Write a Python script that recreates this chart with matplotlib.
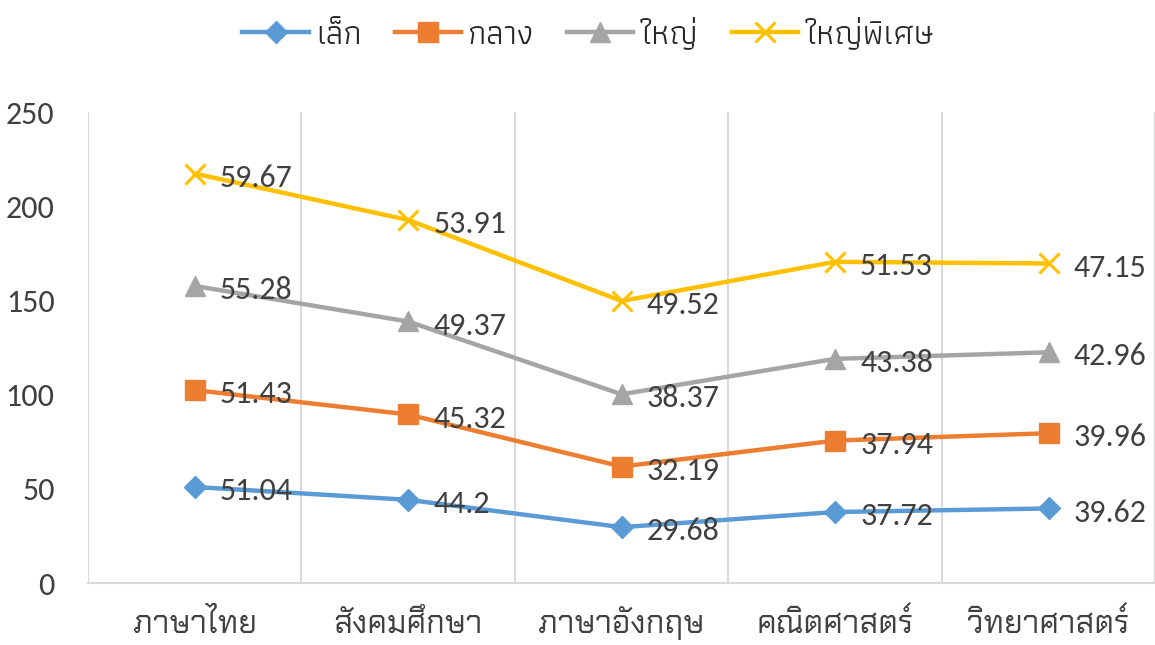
import matplotlib
matplotlib.use("Agg")
import matplotlib.pyplot as plt
import numpy as np

categories = ["ภาษาไทย", "สังคมศึกษา", "ภาษาอังกฤษ", "คณิตศาสตร์", "วิทยาศาสตร์"]
series_names = ["เล็ก", "กลาง", "ใหญ่", "ใหญ่พิเศษ"]
small = [51.04, 44.2, 29.68, 37.72, 39.62]
medium = [51.43, 45.32, 32.19, 37.94, 39.96]
large = [55.28, 49.37, 38.37, 43.38, 42.96]
xlarge = [59.67, 53.91, 49.52, 51.53, 47.15]

num_font = ["Carlito", "Archivo Narrow", "DejaVu Sans"]
plt.rcParams['font.family'] = ["Athiti", "DejaVu Sans"]

colors = ["#5B9BD5", "#ED7D31", "#A5A5A5", "#FFC000"]
markers = ["D", "s", "^", "x"]
msizes = [11, 15, 14, 14]

fig = plt.figure(figsize=(11.55, 6.45), dpi=100)
ax = fig.add_axes([0.0762, 0.096, 0.924, 0.730])

x = np.arange(len(categories))
cum = np.zeros(len(categories))
for vals, name, c, m, ms in zip([small, medium, large, xlarge], series_names, colors, markers, msizes):
    cum = cum + np.array(vals)
    ax.plot(x, cum, color=c, lw=3.2, marker=m, ms=ms, mew=2.2 if m == "x" else 1,
            label=name, zorder=3)
    for xi, yi, v in zip(x, cum, vals):
        ax.annotate(f"{v:g}", (xi, yi), xytext=(18, -3), textcoords="offset points",
                    ha="left", va="center", fontsize=23, color="#404040",
                    family=num_font, zorder=4)

ax.set_xlim(-0.5, 4.5)
ax.set_ylim(0, 250)
ax.set_yticks(range(0, 251, 50))
ax.set_xticks(x)
ax.set_xticklabels(categories, fontsize=23, color="#404040", family=["Chakra Petch", "DejaVu Sans"])
for lab in ax.get_xticklabels():
    lab.set_va("baseline")
for lab in ax.get_yticklabels():
    lab.set_family(num_font)
ax.tick_params(axis="y", labelsize=23, colors="#404040", length=0, pad=24)
ax.tick_params(axis="x", length=0, pad=36)
for b in np.arange(-0.5, 4.6, 1.0):
    ax.axvline(b, color="#D9D9D9", lw=1.5, zorder=1)
for s in ["top", "right", "left"]:
    ax.spines[s].set_visible(False)
ax.spines["bottom"].set_color("#D9D9D9")
ax.spines["bottom"].set_linewidth(1.5)

ax.legend(loc="center", bbox_to_anchor=(0.469, 1.168), ncol=4, frameon=False,
          fontsize=24, handlelength=2.0, columnspacing=1.0, handletextpad=0.2,
          labelcolor="#262626")

fig.savefig("out.png", dpi=100)
